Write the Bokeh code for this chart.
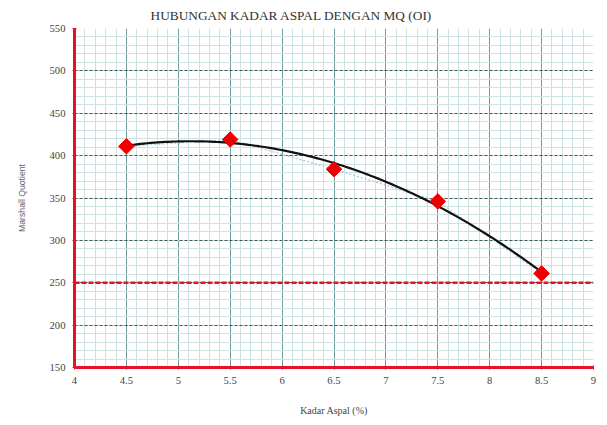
import numpy as np
from bokeh.plotting import figure
from bokeh.models import SingleIntervalTicker, Span, Title
from bokeh.embed import file_html
from bokeh.resources import INLINE

# data
kadar_aspal = [4.5, 5.5, 6.5, 7.5, 8.5]
mq_values = [411, 419, 384, 346, 261]
batas_mq = 250
x_range_lim = (4, 9)
y_range_lim = (150, 550)

# quadratic trendline from the data
coef = np.polyfit(kadar_aspal, mq_values, 2)
xt = np.linspace(min(kadar_aspal), max(kadar_aspal), 120)
yt = np.polyval(coef, xt)

p = figure(width=600, height=418, output_backend="svg", toolbar_location=None,
           x_range=x_range_lim, y_range=y_range_lim,
           min_border_left=74, min_border_right=7, min_border_top=2, min_border_bottom=4)
p.title = Title(text="HUBUNGAN  KADAR  ASPAL  DENGAN  MQ  (OI)", align="left", offset=76,
                text_font="Liberation Serif", text_font_size="10pt", text_font_style="normal",
                text_color="#333333", standoff=11)
p.outline_line_color = None
p.background_fill_color = "white"
p.border_fill_color = "white"

p.xaxis.ticker = SingleIntervalTicker(interval=0.5, num_minor_ticks=5)
p.yaxis.ticker = SingleIntervalTicker(interval=50, num_minor_ticks=5)

# grids
p.xgrid.grid_line_color = "#6f9c9c"
p.xgrid.grid_line_width = 1
p.xgrid.minor_grid_line_color = "#cfe2e2"
p.xgrid.minor_grid_line_width = 1
p.ygrid.grid_line_color = "#3c5a50"
p.ygrid.grid_line_dash = "3 2"
p.ygrid.grid_line_width = 1
p.ygrid.minor_grid_line_color = "#cfe2e2"
p.ygrid.minor_grid_line_width = 1

for ax in (p.xaxis[0], p.yaxis[0]):
    ax.axis_line_color = "#e8102a"
    ax.axis_line_width = 3
    ax.major_tick_line_color = "#e8102a"
    ax.major_tick_in = 2
    ax.major_tick_out = 2
    ax.minor_tick_line_color = None
    ax.major_label_text_font = "Liberation Serif"
    ax.major_label_text_font_size = "8pt"
    ax.major_label_text_color = "#444444"

p.xaxis.axis_label = "Kadar Aspal (%)"
p.xaxis.axis_label_text_font = "Liberation Serif"
p.xaxis.axis_label_text_font_size = "7.5pt"
p.xaxis.axis_label_text_font_style = "normal"
p.xaxis.axis_label_text_color = "#444444"
p.xaxis.axis_label_standoff = 18
p.xaxis.major_label_standoff = 5

p.yaxis.axis_label = "Marshall Quotient"
p.yaxis.axis_label_text_font = "Liberation Sans"
p.yaxis.axis_label_text_font_size = "6.5pt"
p.yaxis.axis_label_text_font_style = "normal"
p.yaxis.axis_label_text_color = "#666666"
p.yaxis.axis_label_standoff = 20
p.yaxis.major_label_standoff = 5

# limit line
p.add_layout(Span(location=batas_mq, dimension="width", line_color="#e8102a",
                  line_width=2.5, line_dash="5 2"))

# series line (faint) and trendline
p.line(kadar_aspal, mq_values, line_color="#9cc8e0", line_width=1.2, line_dash="2 2")
p.line(xt, yt, line_color="#111111", line_width=2.2)
p.scatter(kadar_aspal, mq_values, marker="square", angle=np.pi / 4, size=11,
          fill_color="#ee0000", line_color="#ee0000")

open("out.html", "w").write(file_html(p, INLINE))
